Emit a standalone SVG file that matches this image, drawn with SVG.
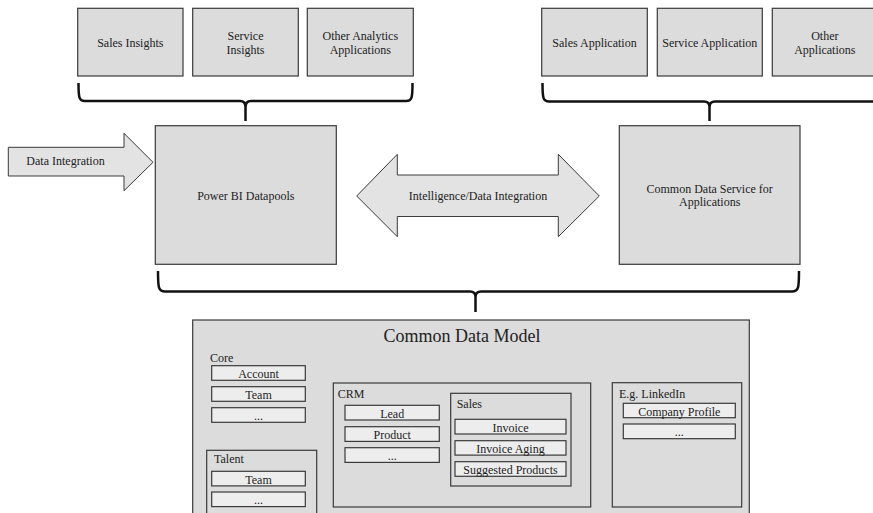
<svg xmlns="http://www.w3.org/2000/svg" width="873" height="513" viewBox="0 0 873 513">
<style>
text{font-family:"Liberation Serif","Times New Roman",serif;font-size:12px;fill:#222;}
.c{text-anchor:middle;}
.box{fill:#dcdcdc;stroke:#3a3a3a;stroke-width:1.2;}
.item{fill:#ededed;stroke:#3a3a3a;stroke-width:1.2;}
.arrow{fill:#e3e3e3;stroke:#3a3a3a;stroke-width:1;}
.brace{fill:none;stroke:#111;stroke-width:2.5;stroke-linejoin:round;}
</style>
<rect width="873" height="513" fill="#fff"/>

<g id="sales-insights"><rect class="box" x="77.7" y="8.3" width="105.3" height="67.7"/><text class="c" x="130.3" y="47">Sales Insights</text></g>
<g id="service-insights"><rect class="box" x="192.7" y="8.3" width="105.6" height="67.7"/><text class="c" x="245.5" y="40">Service</text><text class="c" x="245.5" y="54">Insights</text></g>
<g id="other-analytics"><rect class="box" x="307.3" y="8.3" width="106" height="67.7"/><text class="c" x="360.3" y="40">Other Analytics</text><text class="c" x="360.3" y="54">Applications</text></g>

<g id="sales-application"><rect class="box" x="541.7" y="8.3" width="105.6" height="67.7"/><text class="c" x="594.5" y="47">Sales Application</text></g>
<g id="service-application"><rect class="box" x="657.3" y="8.3" width="105" height="67.7"/><text class="c" x="709.8" y="47">Service  Application</text></g>
<g id="other-applications"><rect class="box" x="772.3" y="8.3" width="105" height="67.7"/><text class="c" x="824.8" y="40">Other</text><text class="c" x="824.8" y="54">Applications</text></g>

<g id="power-bi"><rect class="box" x="155.3" y="125.7" width="181" height="138.6"/><text class="c" x="245.8" y="200">Power BI Datapools</text></g>
<g id="cds"><rect class="box" x="619.3" y="125.7" width="180.7" height="138.6"/><text class="c" x="709.7" y="192.7">Common Data Service for</text><text class="c" x="709.7" y="206">Applications</text></g>

<g id="connectors">
<g id="data-integration"><polygon class="arrow" points="8.3,147.3 124,147.3 124,133.3 153,162.3 124,190.7 124,176 8.3,176"/><text class="c" x="65.5" y="165">Data Integration</text></g>
<g id="intelligence"><polygon class="arrow" points="356.7,196 397.3,154.3 397.3,175 558.3,175 558.3,154.3 599.3,196 558.3,236.7 558.3,216.5 397.3,216.5 397.3,236.7"/><text class="c" x="478" y="200">Intelligence/Data Integration</text></g>
<path class="brace" d="M78.5,83 C78.5,98 79,101 85,101 L240,101 Q245.5,101 245.5,107 L245.5,121 M245.5,107 Q245.5,101 251,101 L406,101 C412,101 412.5,98 412.5,83"/>
<path class="brace" d="M542.5,83 C542.5,98 543,101.5 549,101.5 L704,101.5 Q709.5,101.5 709.5,107 L709.5,121 M709.5,107 Q709.5,101.5 715,101.5 L880,101.5"/>
<path class="brace" d="M158,271 C158,288 158.5,291.5 165,291.5 L470,291.5 Q475.5,291.5 475.5,297 L475.5,312 M475.5,297 Q475.5,291.5 481,291.5 L792,291.5 C798.5,291.5 799,288 799,271"/>
</g>

<g id="cdm">
<rect class="box" x="192.7" y="320" width="556.6" height="210"/>
<text class="c" x="462" y="341.5" style="font-size:18px">Common Data Model</text>
</g>
<g id="core">
<text x="210" y="361.5">Core</text>
<rect class="item" x="211.7" y="365.7" width="93.6" height="14.6"/><text class="c" x="258.5" y="378">Account</text>
<rect class="item" x="211.7" y="386.7" width="93.6" height="14.6"/><text class="c" x="258.5" y="399">Team</text>
<rect class="item" x="211.7" y="407.7" width="93.6" height="14.6"/><text class="c" x="258.5" y="420">...</text>
</g>
<g id="talent">
<rect class="box" x="206.7" y="450.3" width="110" height="80"/>
<text x="214" y="463.3">Talent</text>
<rect class="item" x="211.7" y="471.3" width="93.6" height="14.6"/><text class="c" x="258.5" y="483.6">Team</text>
<rect class="item" x="211.7" y="492" width="93.6" height="14.6"/><text class="c" x="258.5" y="504.3">...</text>
</g>
<g id="crm">
<rect class="box" x="333.3" y="383" width="257.4" height="124"/>
<text x="337.7" y="398.3">CRM</text>
<rect class="item" x="345" y="405.3" width="94.3" height="14.7"/><text class="c" x="392.2" y="417.6">Lead</text>
<rect class="item" x="345" y="426.7" width="94.3" height="14.7"/><text class="c" x="392.2" y="439">Product</text>
<rect class="item" x="345" y="447.7" width="94.3" height="14.7"/><text class="c" x="392.2" y="460">...</text>
</g>
<g id="sales">
<rect class="box" x="450.7" y="393.3" width="120.3" height="92.7"/>
<text x="456.7" y="408.3">Sales</text>
<rect class="item" x="455" y="419.3" width="111" height="14.7"/><text class="c" x="510.5" y="431.6">Invoice</text>
<rect class="item" x="455" y="440.7" width="111" height="14.4"/><text class="c" x="510.5" y="452.8">Invoice Aging</text>
<rect class="item" x="455" y="461.7" width="111" height="14.6"/><text class="c" x="510.5" y="474">Suggested Products</text>
</g>
<g id="linkedin">
<rect class="box" x="612.3" y="382.7" width="129.4" height="124.3"/>
<text x="619" y="397.7">E.g. LinkedIn</text>
<rect class="item" x="623.3" y="403.3" width="112" height="14.4"/><text class="c" x="679.3" y="415.5">Company Profile</text>
<rect class="item" x="623.3" y="424" width="112" height="14.7"/><text class="c" x="679.3" y="436.3">...</text>
</g>
</svg>
